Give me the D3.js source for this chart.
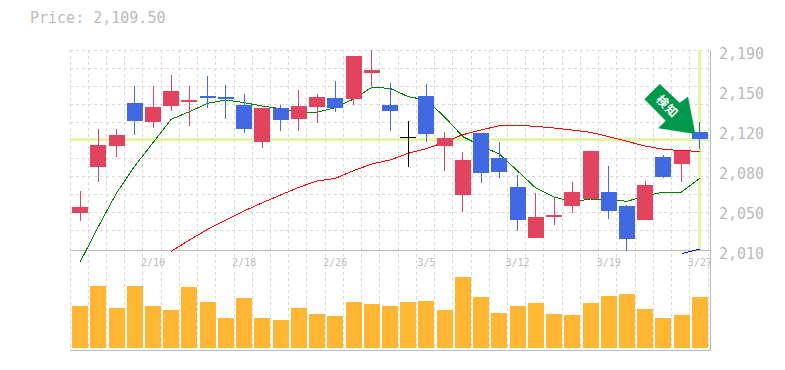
<!DOCTYPE html>
<html>
<head>
<meta charset="utf-8">
<script src="https://cdn.jsdelivr.net/npm/d3@7"></script>
<style>
    body { margin: 0; background: #fff; }
    text { font-family: "DejaVu Sans Mono", monospace; fill: #bbb; }
    .grid { stroke: #d8d8d8; stroke-dasharray: 3 3; shape-rendering: crispEdges; }
    .frame { stroke: #bbb; stroke-width: 1; shape-rendering: crispEdges; }
    .hilite { stroke: #e4f5a6; stroke-width: 3; shape-rendering: crispEdges; }
    .ma { fill: none; stroke-width: 1; shape-rendering: crispEdges; }
</style>
</head>
<body>
<svg id="chart" width="785" height="370"></svg>
<script>
const priceLabel = "Price: 2,109.50";
const lastPrice = 2109.5;

const open = [2043.3,2084.7,2103.6,2142.3,2125.2,2139.6,2143.2,2148.6,2147.7,2140.5,2107.2,2137.8,2127.9,2138.7,2146.8,2145.9,2169.3,2140.5,2111.3,2148.6,2103.6,2059.5,2115.3,2092.8,2066.7,2020.8,2039.7,2049.6,2055.9,2062.2,2049.6,2037,2093.7,2087.4,2116.2];
const close = [2048.7,2104.5,2113.5,2126.1,2138.7,2153.1,2145,2146.8,2145.9,2118.9,2137.8,2127,2139.6,2147.7,2137.8,2184.6,2172,2135.1,2111.3,2114.4,2110.8,2091,2079.3,2080.2,2037,2039.7,2041.5,2062.2,2099.1,2045.1,2019.9,2068.5,2075.7,2099.1,2109.5];
const high = [2063.1,2118.9,2118.9,2157.6,2157.6,2167.5,2157.6,2166.6,2158.5,2150.4,2137.8,2140.5,2154,2150.4,2162.1,2184.6,2190,2160.3,2126.1,2159.4,2116.2,2098.2,2115.3,2107.2,2077.5,2061.3,2056.8,2071.2,2099.1,2085.6,2050.5,2072.1,2095.5,2099.1,2125.2];
const low = [2036.1,2071.2,2093.7,2113.5,2119.8,2135.1,2121.6,2137.8,2127.9,2115.3,2101.8,2117.1,2117.1,2124.3,2134.2,2140.5,2157.6,2117.1,2084.7,2107.2,2081.1,2044.2,2070.3,2074.8,2027.1,2020.8,2032.5,2043.3,2055.9,2037.9,2009.1,2037,2074.8,2071.2,2100.9];
const volume = [4200,6200,4000,6200,4200,3800,6100,4600,3000,5000,3000,2800,4000,3400,3200,4600,4400,4200,4600,4700,3800,7100,5100,3500,4200,4500,3400,3300,4500,5200,5400,3900,3000,3300,5100];

const maShort = [1999.2,2031,2061.3,2085.6,2106.6,2127.6,2134.5,2142,2145,2142.6,2139.6,2137.2,2133.9,2133.9,2138.1,2145.9,2156.4,2155.5,2148,2145,2129.7,2112,2103.6,2096.4,2081.1,2065.8,2057.7,2053.5,2055.9,2055.9,2053.8,2058.6,2062.2,2062.2,2074.5];
const maMid = [null,null,null,null,null,2008.8,2019,2028.6,2037,2045.1,2052.6,2059.5,2066.4,2072.1,2074.5,2081.4,2087.4,2091,2097,2101.2,2107.2,2113.8,2118,2121.9,2122.2,2121.3,2119.8,2118,2115.9,2112,2107.8,2103.6,2100.6,2099.4,2098.8];
const maLong = [null,null,null,null,null,null,null,null,null,null,null,null,null,null,null,null,null,null,null,null,null,null,null,null,null,null,null,null,null,null,null,null,null,2006.7,2010.9];

const dateIndex = [4,9,14,19,24,29,34];
const dateLabels = ["2/10","2/18","2/26","3/5","3/12","3/19","3/27"];
const priceTicks = [2190,2154,2118,2082,2046,2010];
const priceTickLabels = ["2,190","2,150","2,120","2,080","2,050","2,010"];

const svg = d3.select("#chart");

const x = d3.scaleBand()
    .domain(d3.range(open.length))
    .range([71, 709])
    .paddingInner(0.1223)
    .paddingOuter(0.06);
const y = d3.scaleLinear().domain([2010, 2190]).range([250, 50]);
const yVol = d3.scaleLinear().domain([0, 7100]).range([348, 277]);
const xMid = i => x(i) + x.bandwidth() / 2;

svg.append("text")
    .attr("x", 30).attr("y", 23)
    .style("font-size", "15px")
    .text(priceLabel);

// grid
svg.append("g").selectAll("line")
    .data(d3.range(open.length + 1))
    .enter().append("line")
    .attr("class", "grid")
    .attr("x1", i => Math.floor(71 + x.step() * i) - 0.5)
    .attr("x2", i => Math.floor(71 + x.step() * i) - 0.5)
    .attr("y1", 50).attr("y2", 350);
svg.append("g").selectAll("line")
    .data(d3.range(11))
    .enter().append("line")
    .attr("class", "grid")
    .attr("x1", 70).attr("x2", 710)
    .attr("y1", i => y(2190 - 16.2 * i) + 0.5)
    .attr("y2", i => y(2190 - 16.2 * i) + 0.5);

// frame
svg.append("line").attr("class", "frame").attr("x1", 70).attr("x2", 710).attr("y1", 250.5).attr("y2", 250.5);
svg.append("line").attr("class", "frame").attr("x1", 70).attr("x2", 711).attr("y1", 350.5).attr("y2", 350.5);
svg.append("line").attr("class", "frame").attr("x1", 710.5).attr("x2", 710.5).attr("y1", 50).attr("y2", 350);

// current price highlight
svg.append("line").attr("class", "hilite")
    .attr("x1", 70).attr("x2", 708)
    .attr("y1", y(lastPrice)).attr("y2", y(lastPrice));
svg.append("line").attr("class", "hilite")
    .attr("x1", xMid(open.length - 1)).attr("x2", xMid(open.length - 1))
    .attr("y1", 50).attr("y2", 250);

// moving averages
const maLine = d3.line()
    .defined(d => d !== null)
    .x((d, i) => xMid(i))
    .y(d => y(d));
[[maShort, "#008000"], [maMid, "#ff0000"], [maLong, "#0000ff"]].forEach(function(m){
    svg.append("path")
        .datum(m[0])
        .attr("class", "ma")
        .attr("stroke", m[1])
        .attr("d", maLine);
});

// candles
const candleColor = function(i){
    if (close[i] > open[i]) return "#e2435f";
    if (close[i] < open[i]) return "#4169e1";
    return "#000";
};
const candles = svg.append("g").attr("shape-rendering", "crispEdges")
    .selectAll("g")
    .data(d3.range(open.length))
    .enter().append("g");
candles.append("line")
    .attr("x1", xMid).attr("x2", xMid)
    .attr("y1", i => y(high[i])).attr("y2", i => y(low[i]))
    .attr("stroke", candleColor)
    .attr("stroke-width", 1);
candles.append("rect")
    .attr("x", i => x(i))
    .attr("width", x.bandwidth())
    .attr("y", i => y(Math.max(open[i], close[i])))
    .attr("height", i => Math.max(1, Math.abs(y(open[i]) - y(close[i]))))
    .attr("fill", candleColor);

// volume
svg.append("g").attr("shape-rendering", "crispEdges")
    .selectAll("rect")
    .data(volume)
    .enter().append("rect")
    .attr("x", (d, i) => x(i))
    .attr("width", x.bandwidth())
    .attr("y", d => yVol(d))
    .attr("height", d => yVol(0) - yVol(d))
    .attr("fill", "#ffb733");

// date labels
svg.append("g").selectAll("text")
    .data(dateLabels)
    .enter().append("text")
    .attr("x", (d, i) => xMid(dateIndex[i]))
    .attr("y", 266)
    .attr("text-anchor", "middle")
    .style("font-size", "10px")
    .text(d => d);

// price axis
const axis = svg.append("g")
    .attr("transform", "translate(719,0)")
    .call(d3.axisRight(y).tickValues(priceTicks).tickSize(0).tickPadding(0)
        .tickFormat((d, i) => priceTickLabels[i]));
axis.select(".domain").remove();
axis.selectAll("text")
    .attr("dy", 8)
    .style("font-size", "15px")
    .style("font-family", "'DejaVu Sans Mono', monospace");

// arrow marker, anchored on the last candle
const arrow = svg.append("g")
    .attr("transform", "translate(" + (xMid(open.length - 1) - 4.5) + "," + (y(lastPrice) - 5.5) + ")");
arrow.append("path")
    .attr("d", d3.line()([[0,0],[-7.4,-37.3],[-15.7,-31.3],[-35.7,-50],[-51,-34.7],[-29.7,-13.3],[-37.4,-5.7]]) + "Z")
    .attr("fill", "#00994c");
arrow.append("text")
    .attr("transform", "translate(-28,-27.6) rotate(45)")
    .attr("text-anchor", "middle")
    .attr("dy", "0.36em")
    .style("font-family", "'Noto Sans CJK JP', sans-serif")
    .style("font-weight", "bold")
    .style("font-size", "12px")
    .style("letter-spacing", "1px")
    .style("fill", "#fff")
    .text("検知");
</script>
</body>
</html>
